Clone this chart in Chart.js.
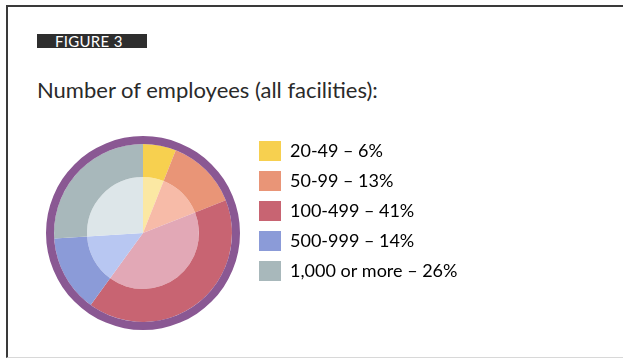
<!DOCTYPE html>
<html>
<head>
<meta charset="utf-8">
<script src="https://cdn.jsdelivr.net/npm/chart.js@4.4.0/dist/chart.umd.min.js"></script>
<style>
  html, body { margin: 0; padding: 0; background: #fff; overflow: hidden; }
  body { width: 623px; height: 358px; position: relative; font-family: Lato, "Open Sans", sans-serif; }
  .frame { position: absolute; left: 6px; top: 5px; width: 617px; height: 350px; border-left: 2px solid #3a3a3a; border-top: 2px solid #3a3a3a; border-bottom: 1px solid #d8d8d8; }
  .tag { position: absolute; left: 37px; top: 34px; width: 110px; height: 14px; background: #2e2e2e; color: #fff; font-size: 15px; line-height: 14px; padding-left: 18px; box-sizing: border-box; overflow: hidden; letter-spacing: 0.3px; }
  .title { position: absolute; left: 37px; top: 76px; font-size: 22px; color: #2a2a2a; white-space: nowrap; }
  .chart-box { position: absolute; left: 37px; top: 131px; width: 424px; height: 204px; }
</style>
</head>
<body>
<div class="frame"></div>
<div class="tag">FIGURE 3</div>
<div class="title">Number of employees (all facilities):</div>
<div class="chart-box"><canvas id="employeesPie"></canvas></div>

<script>
// Facility size bands and their share of respondents (%)
const sizeBands = ['20-49', '50-99', '100-499', '500-999', '1,000 or more'];
const sharePct = [6, 13, 41, 14, 26];

// Outer (saturated) and inner (washed-out) tints per band
const bandColors = ['#f7d04f', '#e99577', '#c86472', '#8b9bd8', '#a8b8bb'];
const innerColors = ['#fbe8a3', '#f7bba8', '#e2a8b6', '#b8c7f2', '#dde6e9'];
const rimColor = '#8a5893';

document.addEventListener('DOMContentLoaded', function() {
  initializeEmployeesPie();
});

function initializeEmployeesPie() {
  const canvas = document.getElementById('employeesPie');
  if (!canvas) return;

  const total = sharePct.reduce((a, b) => a + b, 0);

  new Chart(canvas, {
    type: 'pie',
    data: {
      labels: sizeBands,
      datasets: [
        {
          // purple rim around the whole pie
          data: [total],
          backgroundColor: [rimColor],
          borderWidth: 0,
          weight: 8
        },
        {
          data: sharePct,
          backgroundColor: bandColors,
          borderWidth: 0,
          weight: 33
        },
        {
          data: sharePct,
          backgroundColor: innerColors,
          borderWidth: 0,
          weight: 56
        }
      ]
    },
    options: {
      responsive: true,
      maintainAspectRatio: false,
      animation: false,
      radius: 97,
      layout: { padding: 0 },
      plugins: {
        tooltip: { enabled: false },
        legend: {
          position: 'right',
          align: 'start',
          onClick: null,
          labels: {
            boxWidth: 22,
            boxHeight: 20,
            padding: 10,
            color: '#222',
            font: { family: 'Lato, "Open Sans", sans-serif', size: 18 },
            generateLabels: function() {
              return sizeBands.map(function(band, i) {
                return {
                  text: band + ' \u2013 ' + sharePct[i] + '%',
                  fillStyle: bandColors[i],
                  strokeStyle: bandColors[i],
                  lineWidth: 0,
                  hidden: false,
                  index: i
                };
              });
            }
          }
        }
      }
    }
  });
}
</script>
</body>
</html>
